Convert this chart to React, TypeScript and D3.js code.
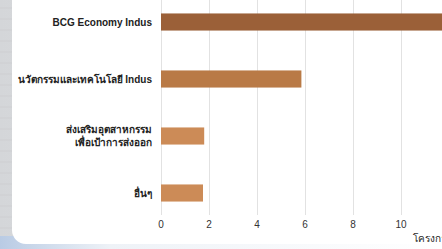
import React, { useRef, useEffect } from "react";
import * as d3 from "d3";

// chart data
const categories = [
  ["BCG Economy Indus"],
  ["นวัตกรรมและเทคโนโลยี Indus"],
  ["ส่งเสริมอุตสาหกรรม", "เพื่อเป้าการส่งออก"],
  ["อื่นๆ"],
];
const values = [12.6, 5.85, 1.8, 1.75];
const barColors = ["#9b6038", "#b97a46", "#cc8b57", "#cc8b57"];
const tickValues = [0, 2, 4, 6, 8, 10];
const axisTitle = "โครงการ";

function App() {
  const svgRef = useRef<SVGSVGElement>(null);

  useEffect(() => {
    const w = 442;
    const h = 249;
    const svg = d3.select(svgRef.current).attr("width", w).attr("height", h);
    svg.selectAll("*").remove();

    const defs = svg.append("defs");
    const side = defs.append("linearGradient").attr("id", "side").attr("x1", 0).attr("x2", 1);
    side.append("stop").attr("offset", 0).attr("stop-color", "#d4d6d9");
    side.append("stop").attr("offset", 1).attr("stop-color", "#eceded");
    const foot = defs.append("linearGradient").attr("id", "foot").attr("x1", 0).attr("x2", 1);
    foot.append("stop").attr("offset", 0).attr("stop-color", "#b9cbe4");
    foot.append("stop").attr("offset", 0.25).attr("stop-color", "#eef2f7");
    foot.append("stop").attr("offset", 1).attr("stop-color", "#ffffff");

    // page behind the card
    svg.append("rect").attr("width", w).attr("height", h).attr("fill", "url(#side)");
    svg.append("rect").attr("y", 236).attr("width", w).attr("height", 13).attr("fill", "url(#foot)");
    d3.range(8, 236, 11).forEach((y) => {
      svg.append("line").attr("x1", 0).attr("x2", 13).attr("y1", y).attr("y2", y)
        .attr("stroke", "#c9cbce").attr("stroke-width", 0.6);
    });
    // card
    svg.append("rect").attr("x", 12).attr("y", -30).attr("width", 480).attr("height", 274)
      .attr("rx", 14).attr("fill", "#ffffff");

    const x = d3.scaleLinear().domain([0, 10]).range([161, 401]);
    const y = d3.scaleBand<number>()
      .domain(categories.map((d, i) => i))
      .range([-6.5, 221.5])
      .paddingInner(0.7)
      .paddingOuter(0.35);

    // gridlines
    svg.append("g")
      .selectAll("line")
      .data(tickValues)
      .join("line")
      .attr("x1", (d) => x(d) + 0.5)
      .attr("x2", (d) => x(d) + 0.5)
      .attr("y1", 0)
      .attr("y2", 215)
      .attr("stroke", "#e2e2e2")
      .attr("stroke-width", 1);

    // bars
    svg.append("g")
      .selectAll("rect")
      .data(values)
      .join("rect")
      .attr("x", x(0))
      .attr("y", (d, i) => y(i)!)
      .attr("width", (d) => x(d) - x(0))
      .attr("height", y.bandwidth())
      .attr("fill", (d, i) => barColors[i]);

    // category labels
    const labels = svg.append("g")
      .attr("font-family", "Helvetica, Arial, sans-serif")
      .attr("font-size", 10)
      .attr("font-weight", "bold")
      .attr("fill", "#222")
      .attr("text-anchor", "end");
    categories.forEach((lines, i) => {
      const cy = y(i)! + y.bandwidth() / 2;
      const t = labels.append("text").attr("x", 152);
      lines.forEach((line, j) => {
        t.append("tspan")
          .attr("x", 152)
          .attr("y", cy + (j - (lines.length - 1) / 2) * 13 + 3.5)
          .text(line);
      });
    });

    // x axis ticks
    svg.append("g")
      .attr("font-family", "Helvetica, Arial, sans-serif")
      .attr("font-size", 10)
      .attr("fill", "#333")
      .attr("text-anchor", "middle")
      .selectAll("text")
      .data(tickValues)
      .join("text")
      .attr("x", (d) => x(d))
      .attr("y", 228)
      .text((d) => d);

    svg.append("text")
      .attr("x", 413)
      .attr("y", 242)
      .attr("font-family", "Helvetica, Arial, sans-serif")
      .attr("font-size", 10)
      .attr("fill", "#222")
      .text(axisTitle);
  }, []);

  return (
    <div style={{ position: "absolute", left: 0, top: 0 }}>
      <svg ref={svgRef} style={{ display: "block" }}></svg>
    </div>
  );
}

export default App;
